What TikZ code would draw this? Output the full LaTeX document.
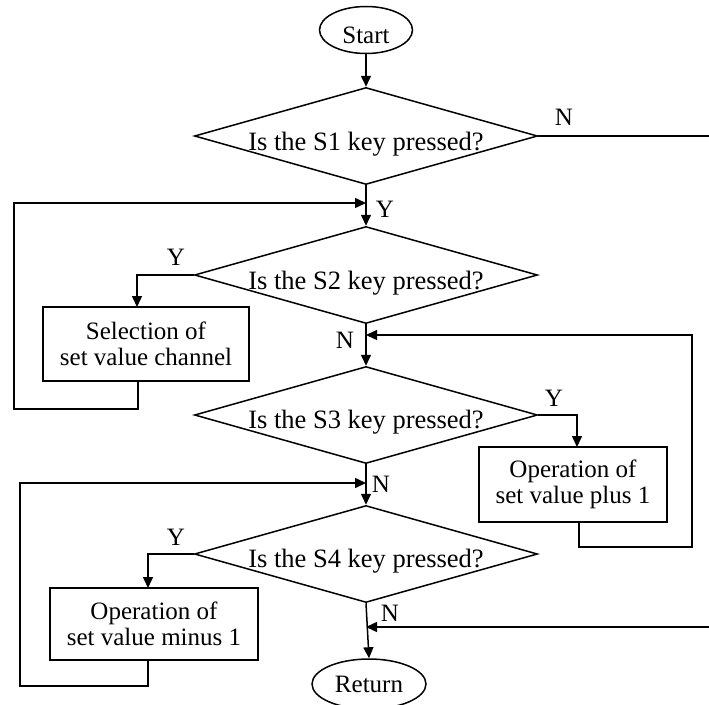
\documentclass[tikz,border=0pt]{standalone}
\usepackage{fontspec}
\setmainfont{Liberation Serif}
\usetikzlibrary{shapes.geometric,arrows.meta}
\begin{document}
\begin{tikzpicture}[x=1pt,y=-1pt,
  every node/.style={font=\fontsize{25}{26}\selectfont},
  line/.style={line width=1.5pt},
  arr/.style={line, -{Triangle[length=11pt,width=10pt]}},
  decision/.style={diamond, draw, line width=1.5pt, inner sep=0pt, minimum width=343pt, minimum height=97pt},
  procbox/.style={rectangle, draw, line width=1.5pt, align=center, inner sep=0pt},
  term/.style={ellipse, draw, line width=1.5pt, inner sep=0pt},
  qtext/.style={anchor=base, inner sep=0pt},
  dtext/.style={qtext, font=\fontsize{26.5}{27}\selectfont},
  lbl/.style={inner sep=0pt}]
\useasboundingbox (0,0) rectangle (709,704);

% nodes
\node[term, minimum width=93pt, minimum height=47pt] (start) at (366,30) {};
\node[qtext] (tstart) at (366,43) {Start};
\node[decision] (d1) at (366,136) {};
\node[dtext] (t1) at (366,150) {Is the S1 key pressed?};
\node[decision] (d2) at (366,275) {};
\node[dtext] (t2) at (366,289) {Is the S2 key pressed?};
\node[decision] (d3) at (366,415) {};
\node[dtext] (t3) at (366,428) {Is the S3 key pressed?};
\node[decision] (d4) at (366,554) {};
\node[dtext] (t4) at (366,567) {Is the S4 key pressed?};
\node[procbox, minimum width=206pt, minimum height=74pt] (b1) at (146,344) {Selection of\\set value channel};
\node[procbox, minimum width=188pt, minimum height=75pt] (b2) at (573,484.5) {Operation of\\set value plus 1};
\node[procbox, minimum width=208pt, minimum height=72pt] (b3) at (154,624) {Operation of\\set value minus 1};
\node[term, minimum width=114pt, minimum height=50pt] (ret) at (369,684) {};
\node[qtext] (tret) at (369,692) {Return};

% junctions
\coordinate (j1) at (366,203);
\coordinate (j2) at (366,335);
\coordinate (j3) at (366,483);
\coordinate (j4) at (366,627);

% labels
\node[lbl] (y1) at (385,209) {Y};
\node[lbl] (n1) at (564,117) {N};
\node[lbl] (y2) at (176,257) {Y};
\node[lbl] (n2) at (345,340) {N};
\node[lbl] (y3) at (554,398) {Y};
\node[lbl] (n3) at (381,484) {N};
\node[lbl] (y4) at (176,537) {Y};
\node[lbl] (n4) at (390,613) {N};

% connectors
\draw[arr] (start.south) -- (d1.north);
\draw[arr] (d1.south) -- (d2.north);
\draw[arr] (d1.east) -- (725,136) -- (725,627) -- (j4);
\draw[arr] (d2.west) -- (137,275) -- (137,307);
\draw[arr] (138,381) -- (138,409) -- (14,409) -- (14,203) -- (j1);
\draw[arr] (d2.south) -- (d3.north);
\draw[arr] (d3.east) -- (577,415) -- (577,447);
\draw[arr] (579,522) -- (579,547) -- (692,547) -- (692,335) -- (j2);
\draw[arr] (d3.south) -- (d4.north);
\draw[arr] (d4.west) -- (148,554) -- (148,588);
\draw[arr] (148,660) -- (148,686) -- (20,686) -- (20,483) -- (j3);
\draw[arr] (d4.south) -- (ret.north);
\end{tikzpicture}
\end{document}
